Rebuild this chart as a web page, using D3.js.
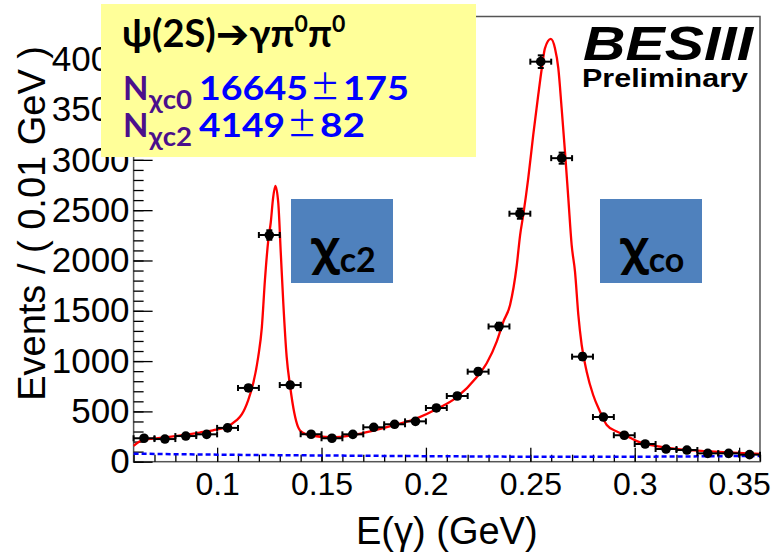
<!DOCTYPE html>
<html>
<head>
<meta charset="utf-8">
<script src="https://cdn.jsdelivr.net/npm/d3@7"></script>
<style>
  html, body { margin: 0; padding: 0; background: #fff; }
  svg { display: block; }
</style>
</head>
<body>
<svg id="chart" width="777" height="557"></svg>
<script>
// Photon energy bins (GeV), 0.01 GeV wide
const binCenters = [0.065, 0.075, 0.085, 0.095, 0.105, 0.115, 0.125, 0.135, 0.145, 0.155,
                    0.165, 0.175, 0.185, 0.195, 0.205, 0.215, 0.225, 0.235, 0.245, 0.255,
                    0.265, 0.275, 0.285, 0.295, 0.305, 0.315, 0.325, 0.335, 0.345, 0.355];
// Events per bin
const binEvents = [233, 225, 255, 272, 336, 733, 2253, 762, 273, 233,
                   272, 342, 372, 401, 534, 653, 895, 1344, 2465, 3976,
                   3017, 1044, 444, 263, 176, 126, 116, 83, 83, 70];
// Statistical uncertainty per bin
const binErrors = [15, 15, 16, 16, 18, 27, 47, 28, 17, 15,
                   16, 18, 19, 20, 23, 26, 30, 37, 50, 63,
                   55, 32, 21, 16, 13, 11, 11, 9, 9, 8];

// Total fit curve samples
const fitEnergy = [0.0600, 0.0645, 0.0693, 0.0757, 0.0837, 0.0917, 0.0980, 0.1044, 0.1092, 0.1118,
                   0.1149, 0.1173, 0.1197, 0.1214, 0.1229, 0.1245, 0.1257, 0.1268, 0.1279, 0.1293,
                   0.1305, 0.1317, 0.1333, 0.1349, 0.1370, 0.1387, 0.1397, 0.1429, 0.1459, 0.1541,
                   0.1652, 0.1748, 0.1852, 0.1956, 0.2052, 0.2147, 0.2243, 0.2291, 0.2339, 0.2371,
                   0.2403, 0.2435, 0.2451, 0.2466, 0.2490, 0.2514, 0.2538, 0.2555, 0.2570, 0.2598,
                   0.2618, 0.2634, 0.2650, 0.2666, 0.2682, 0.2698, 0.2714, 0.2730, 0.2746, 0.2770,
                   0.2801, 0.2834, 0.2866, 0.2914, 0.2955, 0.3010, 0.3121, 0.3281, 0.3441, 0.3600];
const fitEvents = [157, 216, 230, 243, 265, 290, 312, 345, 410, 470,
                   613, 779, 1044, 1330, 1806, 2200, 2380, 2620, 2741, 2569,
                   2071, 1575, 1044, 760, 481, 348, 310, 270, 258, 243,
                   265, 308, 365, 431, 524, 640, 840, 978, 1193, 1392,
                   1558, 1950, 2250, 2450, 2817, 3248, 3645, 3911, 4109, 4202,
                   4109, 3911, 3513, 3082, 2618, 2154, 1889, 1458, 1160, 895,
                   663, 497, 365, 300, 262, 205, 150, 112, 93, 78];

// Background component samples
const bkgEnergy = [0.060, 0.100, 0.150, 0.200, 0.250, 0.300, 0.330, 0.360];
const bkgEvents = [80, 70, 62, 55, 50, 50, 53, 58];

// Axis ticks
const xMajorTicks = [0.1, 0.15, 0.2, 0.25, 0.3, 0.35];
const yMajorTicks = [0, 500, 1000, 1500, 2000, 2500, 3000, 3500, 4000];

const svg = d3.select("#chart");
const frame = { left: 133.6, right: 760, top: 16.5, bottom: 461.7 };

const x = d3.scaleLinear().domain([0.06, 0.36]).range([frame.left, frame.right]);
const y = d3.scaleLinear().domain([0, 4425]).range([frame.bottom, frame.top]);

svg.append("rect").attr("width", 777).attr("height", 557).attr("fill", "#fff");

// Frame
svg.append("rect")
  .attr("x", frame.left).attr("y", frame.top)
  .attr("width", frame.right - frame.left).attr("height", frame.bottom - frame.top)
  .attr("fill", "none").attr("stroke", "#555").attr("stroke-width", 1.5);

const axisFont = "'Liberation Sans', Arial, Helvetica, sans-serif";

// Minor ticks
const xMinor = d3.range(0, 31).map(i => 0.06 + i * 0.01).filter(v => v < 0.3605);
const yMinor = d3.range(0, 45).map(i => i * 100);

svg.append("g")
  .attr("transform", `translate(0,${frame.bottom})`)
  .call(d3.axisBottom(x).tickValues(xMinor).tickSize(-7).tickFormat(""))
  .call(g => g.select(".domain").remove())
  .call(g => g.selectAll("line").attr("stroke", "#000").attr("stroke-width", 1.3));

svg.append("g")
  .attr("transform", `translate(${frame.left},0)`)
  .call(d3.axisLeft(y).tickValues(yMinor).tickSize(-10).tickFormat(""))
  .call(g => g.select(".domain").remove())
  .call(g => g.selectAll("line").attr("stroke", "#000").attr("stroke-width", 1.3));

// Major ticks with labels
svg.append("g")
  .attr("transform", `translate(0,${frame.bottom})`)
  .call(d3.axisBottom(x).tickValues(xMajorTicks).tickSizeInner(-14).tickSizeOuter(0)
        .tickPadding(11).tickFormat(d3.format("")))
  .call(g => g.select(".domain").remove())
  .call(g => g.selectAll("line").attr("stroke", "#000").attr("stroke-width", 1.3))
  .call(g => g.selectAll("text").attr("font-family", axisFont).attr("font-size", 32).attr("fill", "#000"));

svg.append("g")
  .attr("transform", `translate(${frame.left},0)`)
  .call(d3.axisLeft(y).tickValues(yMajorTicks).tickSizeInner(-19).tickSizeOuter(0)
        .tickPadding(4).tickFormat(d3.format("d")))
  .call(g => g.select(".domain").remove())
  .call(g => g.selectAll("line").attr("stroke", "#000").attr("stroke-width", 1.3))
  .call(g => g.selectAll("text").attr("font-family", axisFont).attr("font-size", 35).attr("fill", "#000"));

// Axis titles
svg.append("text")
  .attr("x", (frame.left + frame.right) / 2).attr("y", 544)
  .attr("text-anchor", "middle").attr("font-family", axisFont).attr("font-size", 38)
  .text("E(γ) (GeV)");

svg.append("text")
  .attr("transform", "translate(45,46) rotate(-90)")
  .attr("text-anchor", "end").attr("font-family", axisFont).attr("font-size", 38)
  .text("Events / ( 0.01 GeV )");

// Background (dashed blue)
const bkgLine = d3.line().x((d, i) => x(bkgEnergy[i])).y(d => y(d)).curve(d3.curveMonotoneX);
svg.append("path")
  .attr("d", bkgLine(bkgEvents))
  .attr("fill", "none").attr("stroke", "#0000ff").attr("stroke-width", 2.5)
  .attr("stroke-dasharray", "5,3");

// Total fit (red)
const fitLine = d3.line().x((d, i) => x(fitEnergy[i])).y(d => y(d)).curve(d3.curveMonotoneX);
svg.append("path")
  .attr("d", fitLine(fitEvents))
  .attr("fill", "none").attr("stroke", "#ff0000").attr("stroke-width", 2.3);

// Data points with error bars
const pts = svg.append("g").attr("stroke", "#000").attr("stroke-width", 2);
binCenters.forEach((e, i) => {
  const cx = x(e), cy = y(binEvents[i]);
  const xl = x(e - 0.005), xr = x(e + 0.005);
  const yt = y(binEvents[i] + binErrors[i]), yb = y(binEvents[i] - binErrors[i]);
  pts.append("line").attr("x1", xl).attr("x2", xr).attr("y1", cy).attr("y2", cy);
  pts.append("line").attr("x1", xl).attr("x2", xl).attr("y1", cy - 3).attr("y2", cy + 3);
  pts.append("line").attr("x1", xr).attr("x2", xr).attr("y1", cy - 3).attr("y2", cy + 3);
  pts.append("line").attr("x1", cx).attr("x2", cx).attr("y1", yt).attr("y2", yb);
  pts.append("line").attr("x1", cx - 3).attr("x2", cx + 3).attr("y1", yt).attr("y2", yt);
  pts.append("line").attr("x1", cx - 3).attr("x2", cx + 3).attr("y1", yb).attr("y2", yb);
  pts.append("circle").attr("cx", cx).attr("cy", cy).attr("r", 4.8).attr("fill", "#000").attr("stroke", "none");
});

// Resonance tags
const boxFont = "Lato, 'Noto Sans', 'Open Sans', sans-serif";
const tags = [
  { x: 291, sub: "c2" },
  { x: 600, sub: "co" }
];
tags.forEach(t => {
  svg.append("rect").attr("x", t.x).attr("y", 199).attr("width", 102).attr("height", 84).attr("fill", "#4f81bd");
  const tx = svg.append("text").attr("x", t.x + 20).attr("y", 264).attr("fill", "#000").attr("font-weight", "bold");
  tx.append("tspan").attr("font-family", "'Noto Sans', sans-serif").attr("font-size", 46).text("χ");
  tx.append("tspan").attr("font-family", boxFont).attr("font-size", 34).attr("dy", 8).text(t.sub);
});

// Decay / yield box
svg.append("rect").attr("x", 101).attr("y", 4).attr("width", 375).attr("height", 153).attr("fill", "#ffff99");

const title = svg.append("text").attr("x", 122).attr("y", 47)
  .attr("font-family", boxFont).attr("font-weight", "bold").attr("font-size", 38).attr("fill", "#000");
title.append("tspan").text("ψ(2S)");
title.append("tspan").attr("font-family", "'DejaVu Sans', sans-serif").attr("font-size", 40).attr("dy", 1).text("➔");
title.append("tspan").attr("dy", -1).text("γπ");
title.append("tspan").attr("font-size", 23).attr("dy", -15).text("0");
title.append("tspan").attr("dy", 15).text("π");
title.append("tspan").attr("font-size", 23).attr("dy", -15).text("0");

const purple = "#4b0f8c", blue = "#0000ff";
const yields = [
  { y: 100, sub: "χc0", subY: 109, val: "16645", valW: 109, err: "175", errW: 66, pmX: 310 },
  { y: 137, sub: "χc2", subY: 146, val: "4149", valW: 86, err: "82", errW: 45, pmX: 287 }
];
yields.forEach(r => {
  svg.append("text").attr("x", 123).attr("y", r.y).attr("font-family", boxFont)
    .attr("font-weight", "bold").attr("font-size", 33).attr("fill", purple).text("N");
  svg.append("text").attr("x", 149).attr("y", r.subY).attr("font-family", boxFont)
    .attr("font-weight", "bold").attr("font-size", 27).attr("fill", purple)
    .attr("textLength", 43).attr("lengthAdjust", "spacingAndGlyphs").text(r.sub);
  svg.append("text").attr("x", r.pmX - r.valW - 2).attr("y", r.y).attr("font-family", boxFont)
    .attr("font-weight", "bold").attr("font-size", 33).attr("fill", blue)
    .attr("textLength", r.valW).attr("lengthAdjust", "spacingAndGlyphs").text(r.val);
  svg.append("text").attr("x", r.pmX).attr("y", r.y).attr("font-family", "'Noto Sans CJK SC', sans-serif")
    .attr("font-size", 34).attr("fill", blue)
    .attr("textLength", 30).attr("lengthAdjust", "spacingAndGlyphs").text("±");
  svg.append("text").attr("x", r.pmX + 33).attr("y", r.y).attr("font-family", boxFont)
    .attr("font-weight", "bold").attr("font-size", 33).attr("fill", blue)
    .attr("textLength", r.errW).attr("lengthAdjust", "spacingAndGlyphs").text(r.err);
});

// Experiment label
svg.append("text").attr("x", 583).attr("y", 60)
  .attr("font-family", axisFont).attr("font-weight", "bold").attr("font-style", "italic")
  .attr("font-size", 49).attr("textLength", 170).attr("lengthAdjust", "spacingAndGlyphs").text("BESIII");
svg.append("text").attr("x", 582).attr("y", 87)
  .attr("font-family", axisFont).attr("font-weight", "bold")
  .attr("font-size", 26).attr("textLength", 166).attr("lengthAdjust", "spacingAndGlyphs").text("Preliminary");
</script>
</body>
</html>
